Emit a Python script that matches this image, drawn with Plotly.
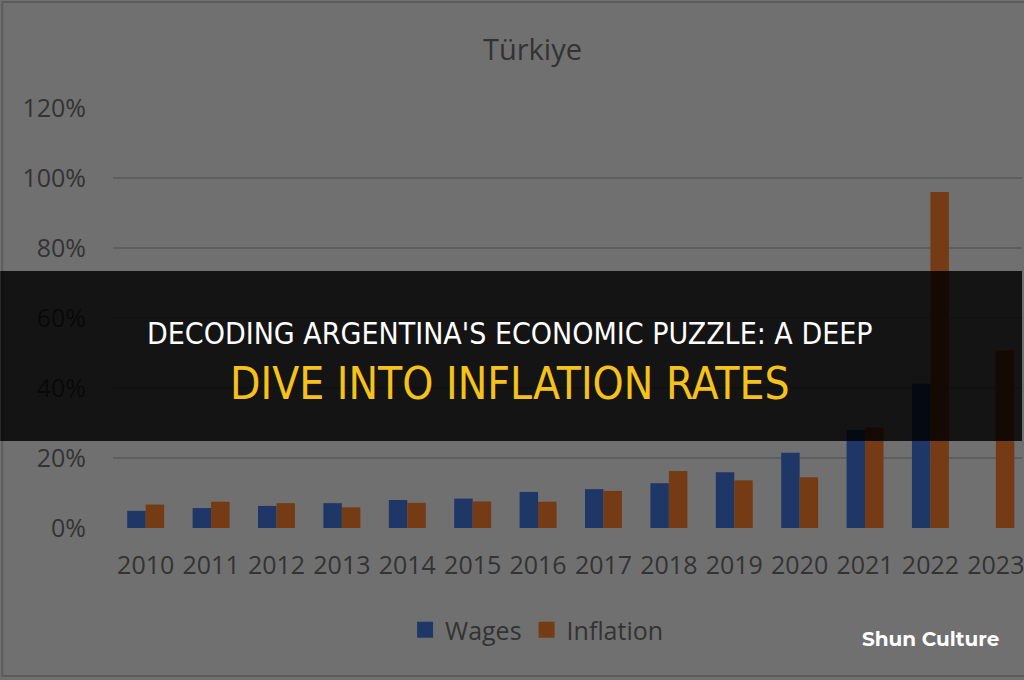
import plotly.graph_objects as go

years = ["2010", "2011", "2012", "2013", "2014", "2015", "2016",
         "2017", "2018", "2019", "2020", "2021", "2022", "2023"]
wages = [4.9, 5.7, 6.3, 7.1, 8.0, 8.4, 10.3, 11.1, 12.8, 15.9, 21.5, 28.0, 41.3, None]
inflation = [6.7, 7.5, 7.1, 5.9, 7.2, 7.6, 7.5, 10.6, 16.3, 13.6, 14.5, 28.7, 96.0, 50.7]
y_ticks = [0, 20, 40, 60, 80, 100, 120]
chart_title = "Türkiye"
banner_line1 = "DECODING ARGENTINA'S ECONOMIC PUZZLE: A DEEP"
banner_line2 = "DIVE INTO INFLATION RATES"
watermark = "Shun Culture"

W, H = 1024, 680
L, R, T, B = 113, 0, 108, 152
PW, PH = W - L - R, H - T - B


def px_x(p):
    return (p - L) / PW


def px_y(p):
    return (H - B - p) / PH


BG = "#707070"
TXT = "#333333"
WAGE_C = "#1f3767"
INFL_C = "#743b14"
font_fam = "Open Sans, Lato, sans-serif"

fig = go.Figure()
fig.add_trace(go.Bar(x=years, y=wages, name="Wages", marker_color=WAGE_C,
                     marker_line_width=0, showlegend=False))
fig.add_trace(go.Bar(x=years, y=inflation, name="Inflation", marker_color=INFL_C,
                     marker_line_width=0, showlegend=False))
# legend entries with larger square swatches
fig.add_trace(go.Scatter(x=[None], y=[None], mode="markers", name="Wages",
                         marker=dict(symbol="square", size=16, color=WAGE_C)))
fig.add_trace(go.Scatter(x=[None], y=[None], mode="markers", name="Inflation",
                         marker=dict(symbol="square", size=16, color=INFL_C)))

fig.update_layout(
    width=W, height=H,
    margin=dict(l=L, r=R, t=T, b=B, pad=0),
    paper_bgcolor=BG, plot_bgcolor=BG,
    barmode="group", bargap=0.435, bargroupgap=0,
    showlegend=True,
    legend=dict(orientation="h", x=px_x(538), xanchor="center",
                y=px_y(630), yanchor="middle", itemsizing="trace",
                font=dict(family=font_fam, size=25, color=TXT),
                bgcolor="rgba(0,0,0,0)", itemwidth=30, traceorder="normal"),
    font=dict(family=font_fam, color=TXT),
)

fig.update_xaxes(type="category", range=[-0.5, 13.4],
                 showgrid=False, showline=False, zeroline=False,
                 ticks="", ticklabelstandoff=20,
                 tickfont=dict(family=font_fam, size=25, color=TXT))
fig.update_yaxes(range=[0, 120], tickvals=y_ticks,
                 ticktext=[f"{v}%" for v in y_ticks],
                 showgrid=True, gridcolor="#5e5e5e", gridwidth=2,
                 zeroline=False, showline=False, ticks="",
                 ticklabelstandoff=26,
                 tickfont=dict(family=font_fam, size=25, color=TXT))

# chart frame
fig.add_shape(type="rect", xref="paper", yref="paper",
              x0=px_x(2), x1=px_x(1030), y0=px_y(676), y1=px_y(2),
              line=dict(color="#5c5c5c", width=2), fillcolor="rgba(0,0,0,0)",
              layer="below")

# banner overlay
fig.add_shape(type="rect", xref="paper", yref="paper",
              x0=px_x(0), x1=px_x(1024), y0=px_y(441), y1=px_y(271),
              line=dict(width=0), fillcolor="rgba(0,0,0,0.82)", layer="above")

fig.add_annotation(text=chart_title, xref="paper", yref="paper",
                   x=px_x(533), y=px_y(48), xanchor="center", yanchor="middle",
                   showarrow=False,
                   font=dict(family=font_fam, size=29, color=TXT))

banner_font = "Liberation Sans Narrow, DejaVu Sans Condensed, Arial Narrow, sans-serif"
fig.add_annotation(text=banner_line1, xref="paper", yref="paper",
                   x=px_x(511), y=px_y(333), xanchor="center", yanchor="middle",
                   showarrow=False,
                   font=dict(family=banner_font, size=30, color="#ffffff"))
fig.add_annotation(text=banner_line2, xref="paper", yref="paper",
                   x=px_x(511), y=px_y(383), xanchor="center", yanchor="middle",
                   showarrow=False,
                   font=dict(family=banner_font, size=44, color="#f5c21b"))

fig.add_annotation(text="<b>" + watermark + "</b>", xref="paper", yref="paper",
                   x=px_x(932), y=px_y(639), xanchor="center", yanchor="middle",
                   showarrow=False,
                   font=dict(family="Montserrat, Open Sans, sans-serif", size=20,
                             color="#ffffff"))

fig.write_html(
    "out.html",
    config={"displayModeBar": False},
    post_script="document.body.style.margin='0';document.body.style.background='#707070';",
)
